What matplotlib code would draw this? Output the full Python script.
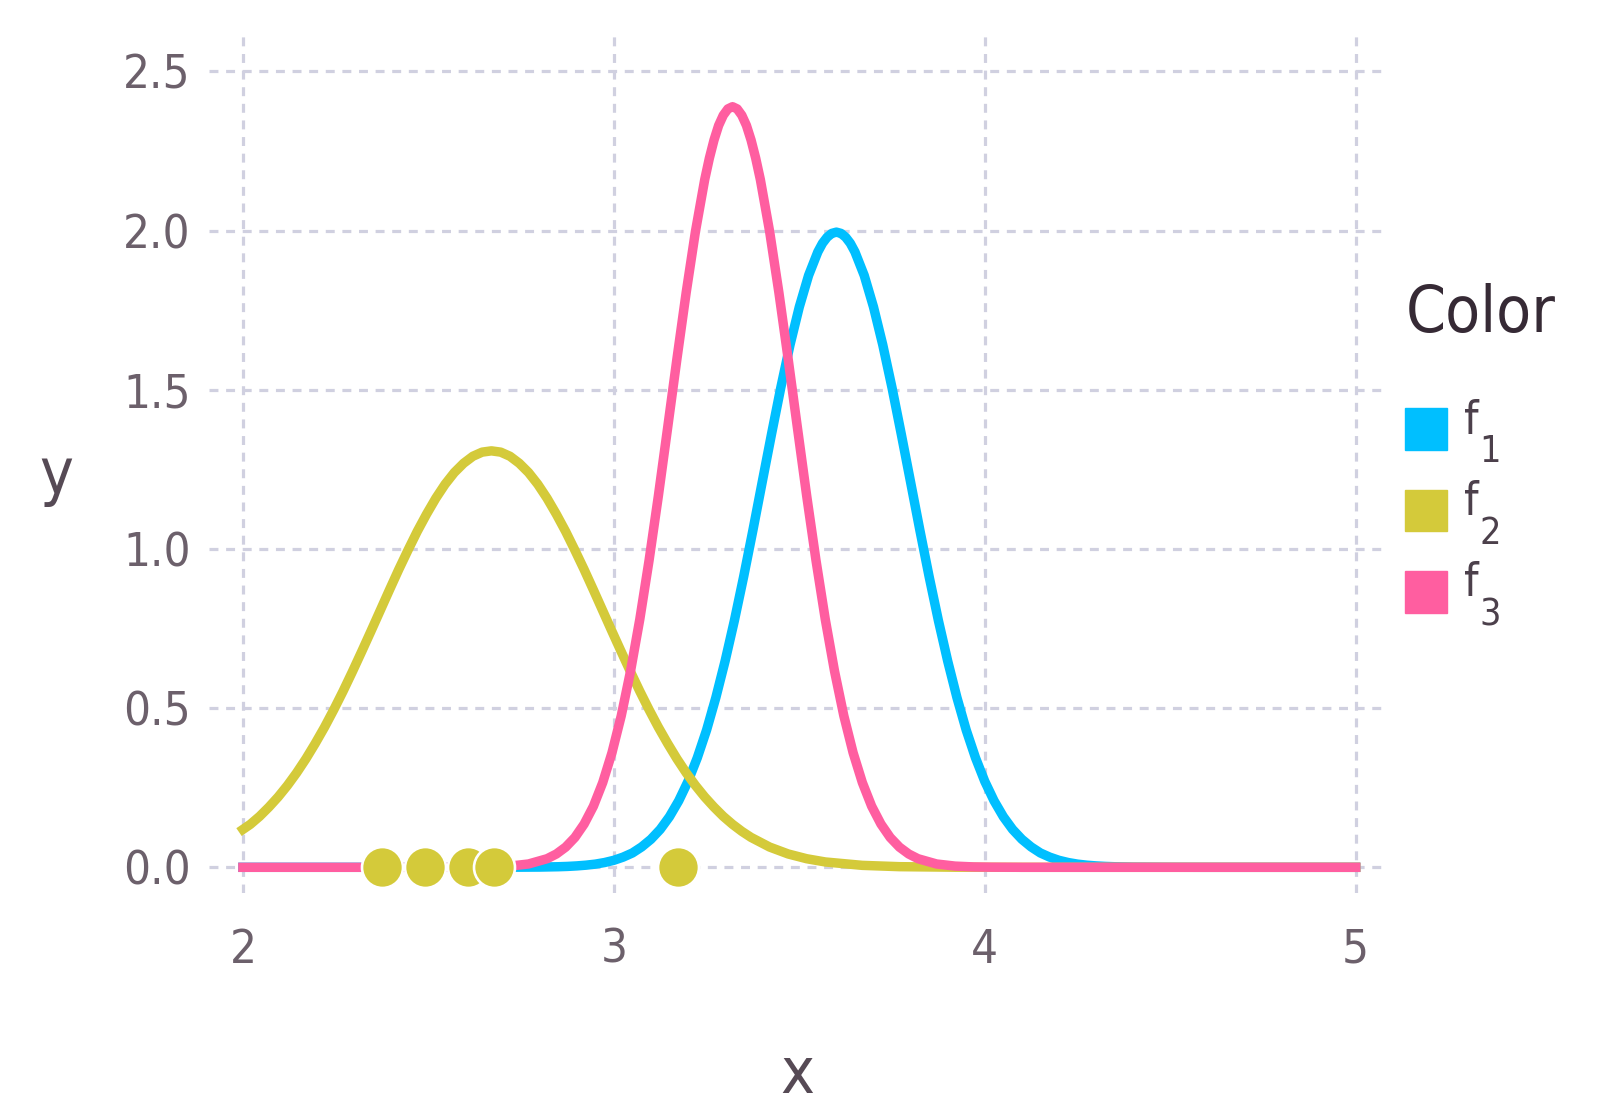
import matplotlib
matplotlib.use("Agg")
import matplotlib.pyplot as plt
from matplotlib.patches import Rectangle

# curve samples
f1_x = [2.0, 2.6, 2.7, 2.8,
        2.85, 2.875, 2.9, 2.925, 2.95, 2.975, 3.0, 3.025, 3.05, 3.075, 3.1, 3.125, 3.15, 3.175, 3.2, 3.225,
        3.25, 3.275, 3.3, 3.325, 3.35, 3.375, 3.4, 3.425, 3.45, 3.475, 3.5, 3.525, 3.55, 3.5625, 3.575, 3.5875, 3.6,
        3.6125, 3.625, 3.6375, 3.65, 3.675, 3.7, 3.725, 3.75, 3.775, 3.8, 3.825, 3.85, 3.875, 3.9, 3.925, 3.95, 3.975,
        4.0, 4.025, 4.05, 4.075, 4.1, 4.125, 4.15, 4.175, 4.2, 4.225, 4.25, 4.275, 4.3, 4.325, 4.35,
        4.4, 4.5, 4.6, 5.0]
f1_y = [0, 0, 0.0001, 0.0007,
        0.0018, 0.0028, 0.0044, 0.0067, 0.010, 0.015, 0.022, 0.032, 0.045, 0.064, 0.088, 0.119, 0.159, 0.209, 0.270, 0.344,
        0.431, 0.533, 0.648, 0.775, 0.913, 1.059, 1.210, 1.360, 1.506, 1.641, 1.760, 1.859, 1.933, 1.960, 1.979, 1.991, 1.995,
        1.991, 1.979, 1.960, 1.933, 1.859, 1.760, 1.641, 1.506, 1.360, 1.210, 1.059, 0.913, 0.775, 0.648, 0.533, 0.431, 0.344,
        0.270, 0.209, 0.159, 0.119, 0.088, 0.064, 0.045, 0.032, 0.022, 0.015, 0.010, 0.0067, 0.0044, 0.0028, 0.0018,
        0.0007, 0.0001, 0, 0]

f2_x = [2.0,
        2.02, 2.045, 2.07, 2.095, 2.12, 2.145, 2.17, 2.195, 2.22, 2.245, 2.27, 2.295, 2.32, 2.345,
        2.37, 2.395, 2.42, 2.445, 2.47, 2.495, 2.52, 2.545, 2.57, 2.595, 2.62, 2.645, 2.67,
        2.695, 2.72, 2.745, 2.77, 2.795, 2.82, 2.845, 2.87, 2.895, 2.92, 2.945, 2.97, 2.995, 3.02,
        3.045, 3.07, 3.095, 3.12, 3.145, 3.17, 3.195, 3.22, 3.245, 3.27, 3.295, 3.32, 3.345, 3.37,
        3.42, 3.47, 3.52, 3.57, 3.67, 3.77, 3.92, 4.1, 5.0]
f2_y = [0.119,
        0.135, 0.160, 0.189, 0.221, 0.257, 0.297, 0.341, 0.389, 0.440, 0.495, 0.553, 0.614, 0.677, 0.741,
        0.806, 0.871, 0.935, 0.996, 1.055, 1.109, 1.159, 1.203, 1.240, 1.269, 1.291, 1.304, 1.308,
        1.304, 1.291, 1.269, 1.240, 1.203, 1.159, 1.109, 1.055, 0.996, 0.935, 0.871, 0.806, 0.741, 0.677,
        0.614, 0.553, 0.495, 0.440, 0.389, 0.341, 0.297, 0.257, 0.221, 0.189, 0.160, 0.135, 0.113, 0.0939,
        0.0636, 0.0419, 0.0269, 0.0168, 0.0061, 0.0020, 0.0003, 0, 0]

f3_x = [2.0, 2.5, 2.62, 2.67, 2.72, 2.77,
        2.82, 2.845, 2.87, 2.895, 2.92, 2.945, 2.97, 2.995, 3.02, 3.045, 3.07, 3.095, 3.12, 3.145,
        3.17, 3.195, 3.22, 3.245, 3.2575, 3.27, 3.2825, 3.295, 3.3075, 3.32, 3.3325, 3.345, 3.3575, 3.37, 3.3825,
        3.395, 3.42, 3.445, 3.47, 3.495,
        3.52, 3.545, 3.57, 3.595, 3.62, 3.645, 3.67, 3.695, 3.72, 3.745, 3.77, 3.795, 3.82,
        3.87, 3.92, 3.97, 4.02, 4.1, 5.0]
f3_y = [0, 0, 0.0004, 0.0012, 0.0038, 0.0105,
        0.0270, 0.0418, 0.0633, 0.0937, 0.136, 0.192, 0.266, 0.360, 0.476, 0.616, 0.779, 0.964, 1.166, 1.380,
        1.596, 1.805, 1.997, 2.160, 2.227, 2.284, 2.330, 2.362, 2.382, 2.389, 2.382, 2.362, 2.330, 2.284, 2.227,
        2.160, 1.997, 1.805, 1.596, 1.380,
        1.166, 0.964, 0.779, 0.616, 0.476, 0.360, 0.266, 0.192, 0.136, 0.0937, 0.0633, 0.0418, 0.0270,
        0.0105, 0.0038, 0.0012, 0.0004, 0, 0]

# sample points of f2 on the x axis
pts_x = [2.374, 2.49, 2.608, 2.677, 3.173]
pts_y = [0, 0, 0, 0, 0]

x_ticks = [2, 3, 4, 5]
y_ticks = [0.0, 0.5, 1.0, 1.5, 2.0, 2.5]
labels = ["1", "2", "3"]

# gadfly default palette
c1, c2, c3 = "#00BFFF", "#D4CA3A", "#FF5EA0"
grid_c = "#D0D0E0"
W, H = 1600, 1110

plt.rcParams['font.family'] = ['DejaVu Sans']
plt.rcParams['font.stretch'] = 'condensed'

fig = plt.figure(figsize=(16, 11.1), dpi=100)
ax = fig.add_axes([209 / W, 1 - 893 / H, (1382 - 209) / W, (893 - 36) / H])

lw = 6.8
ax.plot(f1_x, f1_y, color=c1, lw=lw, solid_joinstyle='round', zorder=3)
ax.plot(f2_x, f2_y, color=c2, lw=lw, solid_joinstyle='round', zorder=4)
ax.plot(f3_x, f3_y, color=c3, lw=lw, solid_joinstyle='round', zorder=5)
ax.plot(pts_x, pts_y, linestyle='none', marker='o', markersize=29.5, markerfacecolor=c2,
        markeredgecolor='white', markeredgewidth=1.9, zorder=6)

ax.set_xlim(1.9086, 5.0709)
ax.set_ylim(-0.0807, 2.611)
ax.set_xticks(x_ticks)
ax.set_yticks(y_ticks)
ax.set_xticklabels([str(t) for t in x_ticks])
ax.set_yticklabels(["%.1f" % t for t in y_ticks])
ax.tick_params(length=0, labelsize=34, labelcolor="#6c606b")
ax.tick_params(axis='y', pad=13)
ax.tick_params(axis='x', pad=25)
for s in ax.spines.values():
    s.set_visible(False)
ax.grid(True, color=grid_c, lw=2.3, linestyle=(0, (2.8, 2.4)), zorder=0)
ax.set_axisbelow(True)

# axis labels
fig.text(797.7 / W, 1 - 1093 / H, "x", fontsize=46, color="#564a55", ha='center', va='baseline')
fig.text(56 / W, 1 - 494 / H, "y", fontsize=46, color="#564a55", ha='center', va='baseline')

# key drawn by hand
fig.text(1406 / W, 1 - 331.7 / H, "Color", fontsize=46, color="#362a35", ha='left', va='baseline')
sq_top = [408, 489.5, 571]
for col, top, lab in zip([c1, c2, c3], sq_top, labels):
    fig.patches.append(Rectangle((1405 / W, 1 - (top + 41.7) / H), 41.7 / W, 41.7 / H,
                                 transform=fig.transFigure, color=col))
    fig.text(1464 / W, 1 - (top + 25.5) / H, "f", fontsize=33, color="#4c404b", ha='left', va='baseline')
    fig.text(1479 / W, 1 - (top + 54) / H, lab, fontsize=27, color="#4c404b", ha='left', va='baseline')

fig.savefig("out.png", dpi=100)
